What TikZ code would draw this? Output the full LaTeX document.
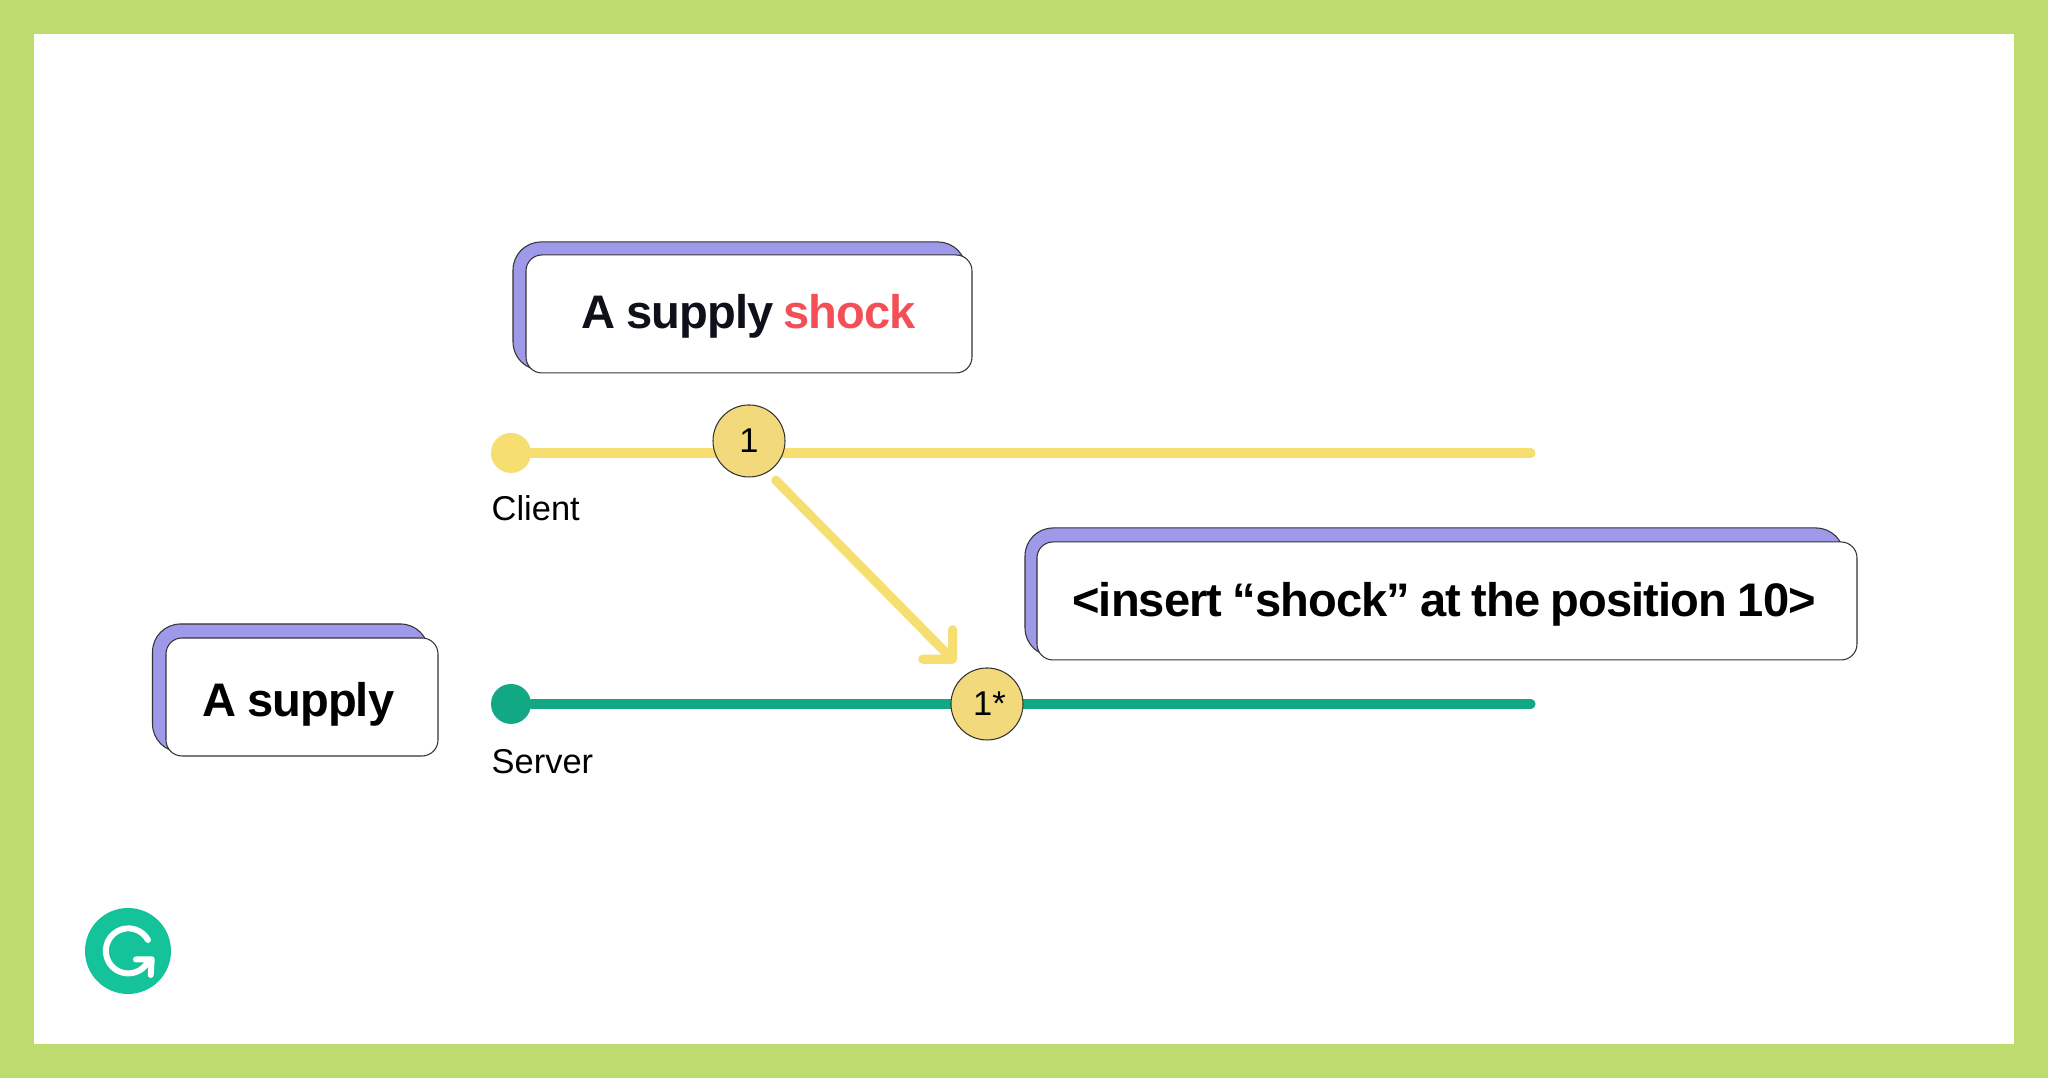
\documentclass[tikz,border=0pt]{standalone}
\usepackage{fontspec}
\setmainfont{Liberation Sans}
\newfontfamily\boxfont[LetterSpace=-2, WordSpace=0.85]{Liberation Sans}
\usetikzlibrary{arrows.meta, positioning}
\definecolor{framegreen}{HTML}{BEDB6F}
\definecolor{backpurple}{HTML}{9E99E8}
\definecolor{lineyellow}{HTML}{F6DE70}
\definecolor{stepyellow}{HTML}{F2DA7C}
\definecolor{lineteal}{HTML}{12A884}
\definecolor{logoteal}{HTML}{15C39A}
\definecolor{wordred}{HTML}{F25056}
\definecolor{inkdark}{HTML}{0E101A}

\begin{document}
\begin{tikzpicture}[
      backbox/.style={draw=black!80, line width=0.3pt, fill=backpurple, rounded corners=0.28cm, minimum height=1.28cm},
      frontbox/.style={draw=black!80, line width=0.3pt, fill=white, rounded corners=0.16cm, minimum height=1.18cm, inner sep=0pt, text depth=0.08cm, text height=#1, font=\boxfont\fontsize{13.4pt}{16pt}\bfseries},
      track/.style={line width=2.6pt, line cap=round},
      startdot/.style={circle, minimum size=0.4cm, inner sep=0pt},
      opstep/.style={circle, draw=black!80, line width=0.3pt, fill=stepyellow, minimum size=0.72cm, inner sep=0pt, font=\fontsize{9.8pt}{11pt}\selectfont},
      tracklabel/.style={anchor=base west, inner sep=0pt, font=\fontsize{9.8pt}{11pt}\selectfont},
      opflow/.style={line width=2.6pt, line cap=round, draw=lineyellow, -{Straight Barb[length=0.21cm, width=0.42cm, round]}}
    ]
      % Frame and page
      \useasboundingbox (0,0) rectangle (20.48,10.78);
      \fill[framegreen] (0,0) rectangle (20.48,10.78);
      \fill[white] (0.34,0.34) rectangle (20.14,10.44);

      % Document states
      \node[backbox, minimum width=4.53cm] (shockback) at (7.395,7.72) {};
      \node[frontbox=0.37cm, minimum width=4.46cm, text=inkdark] (shockbox) at (7.49,7.64) {A supply {\color{wordred}shock}};
      \node[backbox, minimum width=8.19cm] (insertback) at (14.345,4.86) {};
      \node[frontbox=0.40cm, minimum width=8.20cm] (insertbox) at (14.47,4.77) {\hspace*{-0.06cm}<insert “shock” at the position 10>};
      \node[backbox, minimum width=2.76cm] (supplyback) at (2.905,3.90) {};
      \node[frontbox=0.48cm, minimum width=2.72cm] (supplybox) at (3.02,3.81) {\hspace*{-0.07cm}A supply};

      % Client and server timelines
      \node[startdot, fill=lineyellow] (clientdot) at (5.11,6.25) {};
      \node[startdot, fill=lineteal] (serverdot) at (5.11,3.74) {};
      \coordinate (clientend) at (15.31,6.25);
      \coordinate (serverend) at (15.31,3.74);
      \draw[track, lineyellow] (clientdot) -- (clientend);
      \draw[track, lineteal] (serverdot) -- (serverend);
      \node[tracklabel] (clientlabel) at (4.91,5.57) {Client};
      \node[tracklabel] (serverlabel) at (4.91,3.04) {Server};

      % Operations
      \node[opstep, text height=0.24cm, text depth=0cm] (one) at (7.49,6.37) {1};
      \node[opstep, text height=0.24cm, text depth=0cm] (onestar) at (9.87,3.74) {\hspace*{0.05cm}1*};
      \draw[opflow] ([xshift=0.01cm, yshift=-0.135cm]one.south east) -- ([xshift=-0.055cm, yshift=0.155cm]onestar.north west);

      % Logo
      \fill[logoteal] (1.28,1.27) circle (0.43);
      \draw[white, line width=1.7pt, line cap=round, line join=round] (1.48,1.38) arc[start angle=29, end angle=310, radius=0.225] -- (1.517,1.187) (1.36,1.185) -- (1.517,1.187) -- (1.507,1.03);
    \end{tikzpicture}
\end{document}
